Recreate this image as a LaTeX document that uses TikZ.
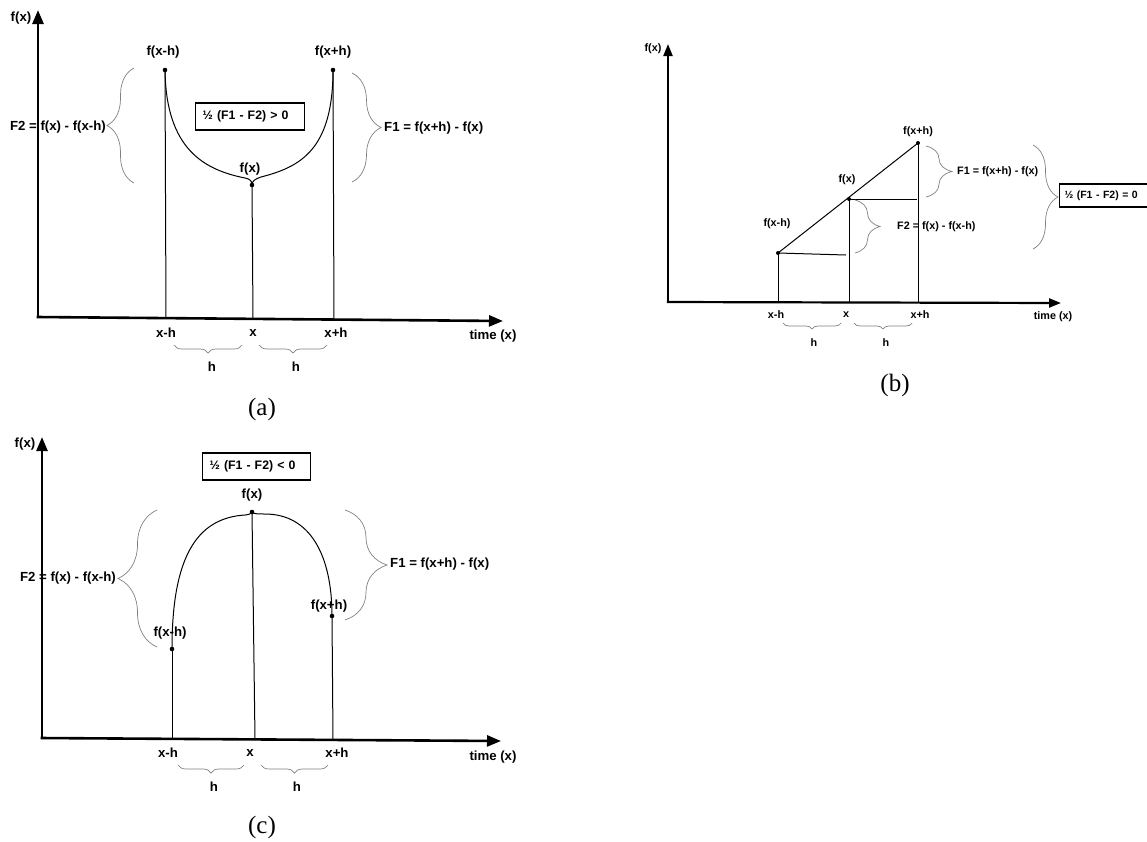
\documentclass[tikz,border=0pt]{standalone}
\usepackage{fontspec}
\newfontfamily\arl{Liberation Sans}
\newfontfamily\srf{Liberation Serif}
\usetikzlibrary{arrows.meta,decorations.pathreplacing}
\begin{document}
\begin{tikzpicture}[x=1pt,y=-1pt,
  axA/.style={line width=2.6pt,-{Triangle[length=14pt,width=11pt]}},
  axB/.style={line width=2.2pt,-{Triangle[length=12pt,width=9pt]}},
  ln/.style={line width=1pt},
  brc/.style={draw=gray,line width=0.7pt,decorate,decoration={brace,amplitude=#1}},
  lbl/.style={font=\arl\bfseries\fontsize{13.2}{15}\selectfont,inner sep=0pt},
  lblb/.style={font=\arl\bfseries\fontsize{10.8}{12}\selectfont,inner sep=0pt},
  cond/.style={draw,line width=1.3pt,font=\arl\bfseries\fontsize{12.3}{14}\selectfont,anchor=west,inner xsep=7pt,inner ysep=0pt,minimum height=27pt,align=left},
  condb/.style={draw,line width=1.1pt,font=\arl\bfseries\fontsize{10.5}{12}\selectfont,anchor=west,inner xsep=5pt,inner ysep=0pt,minimum height=23pt,align=left},
  capt/.style={font=\srf\fontsize{25}{28}\selectfont,inner sep=0pt},
  dot/.style={circle,fill,inner sep=0pt,minimum size=4.6pt}]
\useasboundingbox (0,0) rectangle (1147,841);

% ================= Panel (a)
\coordinate (oA) at (38,317);
\coordinate (yA) at (38,10);
\coordinate (xA) at (503,321);
\draw[axA] (oA) -- (yA);
\draw[axA] ([xshift=-1.3pt]oA) -- (xA);
\node[lbl] (fxA) at (21,18) {f(x)};
\node[lbl] (tA) at (493,336) {time (x)};
\node[dot] (pa1) at (165,70) {};
\node[dot] (pa2) at (252,185) {};
\node[dot] (pa3) at (333,70) {};
\coordinate (ba1) at (166,318);
\coordinate (ba2) at (253,319);
\coordinate (ba3) at (334,320);
\draw[ln] (pa1.center) -- (ba1);
\draw[ln] (pa2.center) -- (ba2);
\draw[ln] (pa3.center) -- (ba3);
\draw[ln] (pa1.center) .. controls (166,150) and (205,170) .. (245,178) .. controls (250,179) and (252,181) .. (pa2.center);
\draw[ln] (pa2.center) .. controls (252,181) and (255,179) .. (261,177) .. controls (300,167) and (333,150) .. (pa3.center);
\node[lbl] (la1) at (163,52) {f(x-h)};
\node[lbl] (la2) at (250,169) {f(x)};
\node[lbl] (la3) at (333,52) {f(x+h)};
\node[cond,text width=95pt] (boxA) at (195,116.5) {½ (F1 - F2) > 0};
\draw[brc=27] (134,183) -- (134,68);
\node[lbl,anchor=east] (F2A) at (106,127) {F2 = f(x) - f(x-h)};
\draw[brc=29] (352,73) -- (352,182);
\node[lbl,anchor=west] (F1A) at (384,128) {F1 = f(x+h) - f(x)};
\node[lbl] (xa1) at (166,333) {x-h};
\node[lbl] (xa2) at (253,333) {x};
\node[lbl] (xa3) at (336,333) {x+h};
\draw[brc=8] (242,345) -- (174,345);
\draw[brc=8] (327,345) -- (259,345);
\node[lbl] (ha1) at (212,367) {h};
\node[lbl] (ha2) at (296,367) {h};
\node[capt] (capA) at (262,409) {(a)};

% ================= Panel (b)
\coordinate (oB) at (668,302);
\coordinate (yB) at (668,44);
\coordinate (xB) at (1061,303);
\draw[axB] (oB) -- (yB);
\draw[axB] ([xshift=-1.1pt]oB) -- (xB);
\node[lblb] (fxB) at (653,49) {f(x)};
\node[lblb] (tB) at (1053,317) {time (x)};
\node[dot,minimum size=4pt] (pb1) at (778,253) {};
\node[dot,minimum size=4pt] (pb2) at (849,199) {};
\node[dot,minimum size=4pt] (pb3) at (918,143) {};
\coordinate (bb1) at (778,302);
\coordinate (bb2) at (849,302);
\coordinate (bb3) at (918,303);
\coordinate (hb1) at (846,255);
\coordinate (hb2) at (917,199);
\draw[ln] (pb1.center) -- (bb1);
\draw[ln] (pb2.center) -- (bb2);
\draw[ln] (pb3.center) -- (bb3);
\draw[ln] (pb1.center) -- (pb3.center);
\draw[ln] (pb1.center) -- (hb1);
\draw[ln] (pb2.center) -- (hb2);
\node[lblb] (lb1) at (777,224) {f(x-h)};
\node[lblb] (lb2) at (847,180) {f(x)};
\node[lblb] (lb3) at (918,132) {f(x+h)};
\draw[brc=26] (926,146) -- (926,197);
\node[lblb,anchor=west] (F1B) at (957,172) {F1 = f(x+h) - f(x)};
\draw[brc=25] (855,200) -- (855,253);
\node[lblb,anchor=west] (F2B) at (897,227) {F2 = f(x) - f(x-h)};
\draw[brc=25] (1033,145) -- (1033,249);
\node[condb,text width=81pt] (boxB) at (1059,195.5) {½ (F1 - F2) = 0};
\node[lblb] (xb1) at (776,315) {x-h};
\node[lblb] (xb2) at (846,315) {x};
\node[lblb] (xb3) at (920,315) {x+h};
\draw[brc=6] (841,323) -- (783,323);
\draw[brc=6] (912,323) -- (854,323);
\node[lblb] (hb1l) at (814,343) {h};
\node[lblb] (hb2l) at (886,343) {h};
\node[capt] (capB) at (895,385) {(b)};

% ================= Panel (c)
\coordinate (oC) at (42,738);
\coordinate (yC) at (42,437);
\coordinate (xC) at (501,741);
\draw[axA] (oC) -- (yC);
\draw[axA] ([xshift=-1.3pt]oC) -- (xC);
\node[lbl] (fxC) at (25,444) {f(x)};
\node[lbl] (tC) at (493,757) {time (x)};
\node[cond,text width=94pt] (boxC) at (202,466.5) {½ (F1 - F2) < 0};
\node[dot] (pc1) at (172,649) {};
\node[dot] (pc2) at (252,512) {};
\node[dot] (pc3) at (332,616) {};
\coordinate (bc1) at (172,738);
\coordinate (bc2) at (255,739);
\coordinate (bc3) at (333,740);
\draw[ln] (pc1.center) -- (bc1);
\draw[ln] (pc2.center) -- (bc2);
\draw[ln] (pc3.center) -- (bc3);
\draw[ln] (pc1.center) .. controls (172,560) and (195,518) .. (245,515) .. controls (249,514.5) and (251,514) .. (pc2.center);
\draw[ln] (pc2.center) .. controls (254,514) and (258,514) .. (265,514) .. controls (310,514) and (332,555) .. (pc3.center);
\node[lbl] (lc2) at (252,495) {f(x)};
\node[lbl] (lc1) at (170,633) {f(x-h)};
\node[lbl] (lc3) at (329,606) {f(x+h)};
\draw[brc=39] (157,647) -- (157,510);
\node[lbl,anchor=east] (F2C) at (116,578) {F2 = f(x) - f(x-h)};
\draw[brc=42] (345,510) -- (345,620);
\node[lbl,anchor=west] (F1C) at (390,564) {F1 = f(x+h) - f(x)};
\node[lbl] (xc1) at (168,753) {x-h};
\node[lbl] (xc2) at (250,753) {x};
\node[lbl] (xc3) at (337,753) {x+h};
\draw[brc=8] (244,765) -- (178,765);
\draw[brc=8] (328,765) -- (261,765);
\node[lbl] (hc1) at (214,787) {h};
\node[lbl] (hc2) at (297,787) {h};
\node[capt] (capC) at (262,827) {(c)};
\end{tikzpicture}
\end{document}
